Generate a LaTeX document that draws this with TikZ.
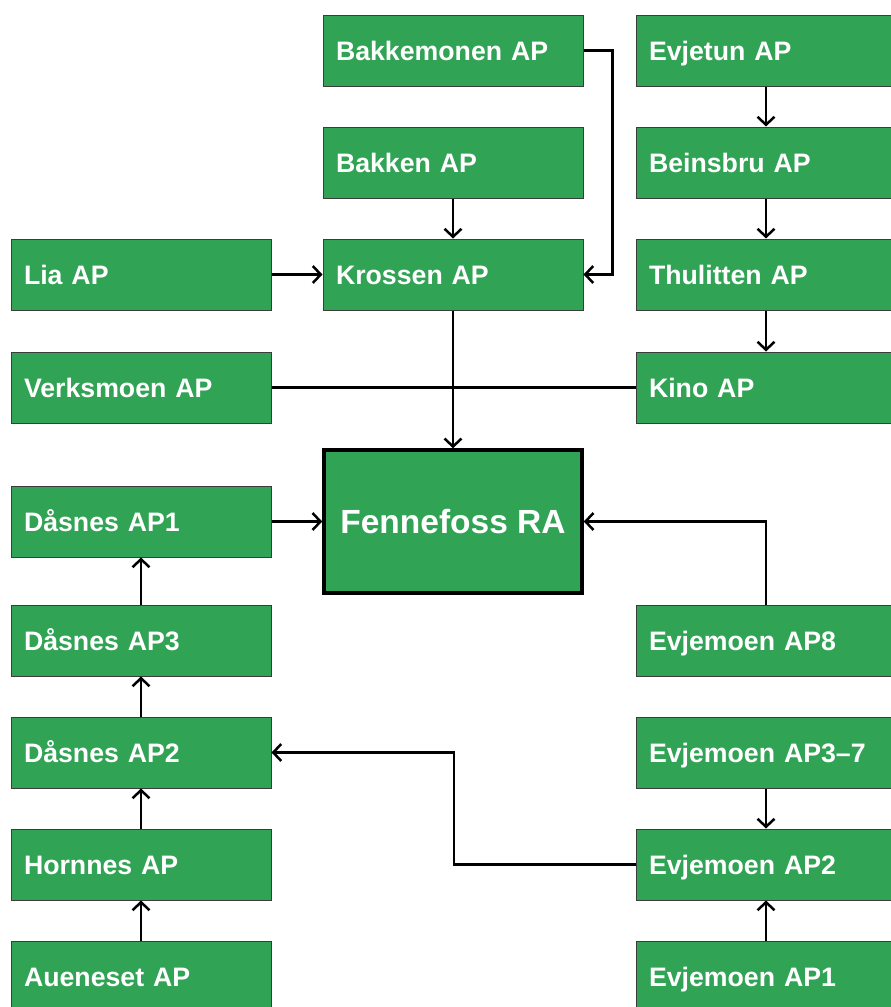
\documentclass[tikz,border=0pt]{standalone}
\usepackage{fontspec}
\setmainfont{Liberation Sans}
\usetikzlibrary{arrows.meta}
\definecolor{boxgreen}{RGB}{49,163,84}
\definecolor{boxedge}{RGB}{60,60,60}
\tikzset{
  apbox/.style={draw=boxedge, line width=1pt, fill=boxgreen, text=white,
    minimum width=260pt, minimum height=71pt, text width=234pt, inner xsep=13pt,
    inner ysep=0pt, text height=19pt, text depth=0pt,
    align=left, font=\fontsize{26.7}{30}\selectfont\bfseries},
  rabox/.style={draw=black, line width=3.5pt, fill=boxgreen, text=white,
    minimum width=258pt, minimum height=143pt, align=center,
    inner ysep=0pt, text height=24pt, text depth=0pt,
    font=\fontsize{33.5}{38}\selectfont\bfseries},
  conn/.style={draw=black, line width=2.5pt},
  arr/.style={conn, -{Straight Barb[length=8pt,width=17pt,line width=2.5pt]}}
}
\begin{document}
\begin{tikzpicture}[x=1pt,y=-1pt]
\useasboundingbox (0,0) rectangle (891,1007);
\fill[white] (0,0) rectangle (891,1007);
% center column
\node[apbox] (bakkemonen) at (453,50.5) {Bakkemonen AP};
\node[apbox] (bakken) at (453,162.5) {Bakken AP};
\node[apbox] (krossen) at (453,274.5) {Krossen AP};
% right column
\node[apbox] (evjetun) at (766,50.5) {Evjetun AP};
\node[apbox] (beinsbru) at (766,162.5) {Beinsbru AP};
\node[apbox] (thulitten) at (766,274.5) {Thulitten AP};
\node[apbox] (kino) at (766,387.5) {Kino AP};
\node[apbox] (ev8) at (766,640.5) {Evjemoen AP8};
\node[apbox] (ev37) at (766,752.5) {Evjemoen AP3–7};
\node[apbox] (ev2) at (766,864.5) {Evjemoen AP2};
\node[apbox] (ev1) at (766,976.5) {Evjemoen AP1};
% left column
\node[apbox] (lia) at (141,274.5) {Lia AP};
\node[apbox] (verks) at (141,387.5) {Verksmoen AP};
\node[apbox] (das1) at (141,521.5) {Dåsnes AP1};
\node[apbox] (das3) at (141,640.5) {Dåsnes AP3};
\node[apbox] (das2) at (141,752.5) {Dåsnes AP2};
\node[apbox] (horn) at (141,864.5) {Hornnes AP};
\node[apbox] (aue) at (141,976.5) {Aueneset AP};
% main
\node[rabox] (ra) at (453,521.5) {Fennefoss RA};
% connectors
\draw[arr] (bakkemonen.east) -- ++(29,0) |- (krossen.east);
\draw[arr] (bakken) -- (krossen);
\draw[arr] (lia) -- (krossen);
\draw[arr] (krossen) -- (ra);
\draw[conn] (verks) -- (kino);
\draw[arr] (evjetun) -- (beinsbru);
\draw[arr] (beinsbru) -- (thulitten);
\draw[arr] (thulitten) -- (kino);
\draw[arr] (das1) -- (ra);
\draw[arr] (ev8.north) |- (ra.east);
\draw[arr] (das3) -- (das1);
\draw[arr] (das2) -- (das3);
\draw[arr] (horn) -- (das2);
\draw[arr] (aue) -- (horn);
\draw[arr] (ev37) -- (ev2);
\draw[arr] (ev1) -- (ev2);
\coordinate (bend) at (454,864.5);
\draw[arr] (ev2.west) -- (bend) |- (das2.east);
\end{tikzpicture}
\end{document}
